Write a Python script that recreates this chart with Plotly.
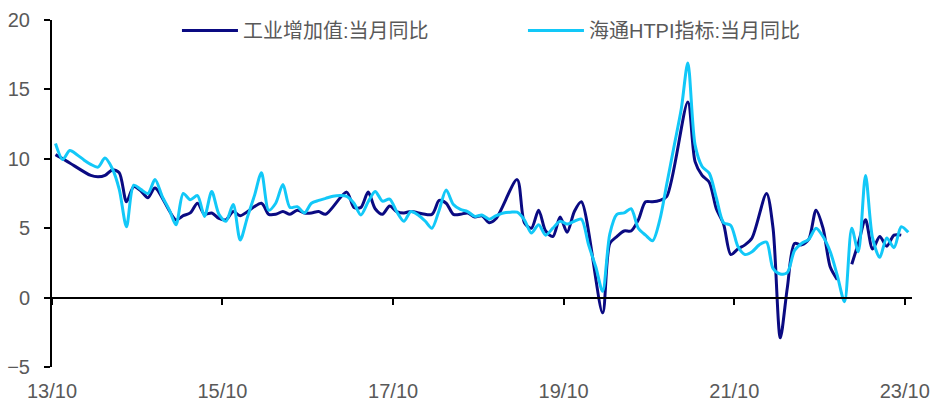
import pandas as pd
import plotly.graph_objects as go

# ---- data -------------------------------------------------------------
START_MONTH = "2013-10"
N_MONTHS = 121                      # 2013-10 ... 2023-10
MONTHS = pd.period_range(START_MONTH, periods=N_MONTHS, freq="M")

SERIES_NAMES = ["工业增加值:当月同比", "海通HTPI指标:当月同比"]

# 工业增加值:当月同比 (None = not published / not shown)
IVA_2013 = [10.3, 10.0, 9.7]
IVA_2014 = [None, None, 8.8, 8.7, 8.8, 9.2, 9.0, 6.9, 8.0, 7.7, 7.2, 7.9]
IVA_2015 = [None, None, 5.6, 5.9, 6.1, 6.8, 6.0, 6.1, 5.7, 5.6, 6.2, 5.9]
IVA_2016 = [None, None, 6.8, 6.0, 6.0, 6.2, 6.0, 6.3, 6.1, 6.1, 6.2, 6.0]
IVA_2017 = [None, None, 7.6, 6.5, 6.5, 7.6, 6.4, 6.0, 6.6, 6.2, 6.1, 6.2]
IVA_2018 = [None, None, 6.0, 7.0, 6.8, 6.0, 6.0, 6.1, 5.8, 5.9, 5.4, 5.7]
IVA_2019 = [None, None, 8.5, 5.4, 5.0, 6.3, 4.8, 4.4, 5.8, 4.7, 6.2, 6.9]
IVA_2020 = [None, None, -1.1, 3.9, 4.4, 4.8, 4.8, 5.6, 6.9, 6.9, 7.0, 7.3]
IVA_2021 = [None, None, 14.1, 9.8, 8.8, 8.3, 6.4, 5.3, 3.1, 3.5, 3.8, 4.3]
IVA_2022 = [None, 7.5, 5.0, -2.9, 0.7, 3.9, 3.8, 4.2, 6.3, 5.0, 2.2, 1.3]
IVA_2023 = [None, 2.4, 3.9, 5.6, 3.5, 4.4, 3.7, 4.5, 4.5, None]
IVA = (IVA_2013 + IVA_2014 + IVA_2015 + IVA_2016 + IVA_2017 + IVA_2018
       + IVA_2019 + IVA_2020 + IVA_2021 + IVA_2022 + IVA_2023)
IVA_BREAK = "2023-01"   # line is interrupted here in the original

# 海通HTPI指标:当月同比
HTPI_2013 = [11.1, 9.95, 10.6]
HTPI_2014 = [10.3, 9.9, 9.6, 9.4, 10.05, 9.3, 7.8, 5.1, 8.1, 7.8, 7.5, 8.5]
HTPI_2015 = [7.3, 6.3, 5.25, 7.5, 7.05, 7.35, 5.85, 7.65, 6.0, 5.5, 6.7, 4.15]
HTPI_2016 = [5.8, 7.4, 9.0, 6.3, 6.8, 8.15, 6.5, 6.55, 6.1, 6.8, 7.0, 7.15]
HTPI_2017 = [7.3, 7.35, 7.3, 6.8, 5.95, 6.9, 7.65, 6.95, 7.1, 6.2, 5.5, 6.2]
HTPI_2018 = [5.95, 5.5, 5.0, 6.3, 7.75, 6.7, 6.35, 6.2, 5.85, 5.95, 5.65, 5.9]
HTPI_2019 = [6.1, 6.15, 6.15, 5.6, 4.65, 5.25, 4.5, 5.0, 5.5, 5.3, 5.5, 5.65]
HTPI_2020 = [3.8, 2.2, 0.45, 4.6, 6.0, 6.1, 6.4, 5.0, 4.5, 4.1, 5.6, 8.2]
HTPI_2021 = [10.9, 13.6, 16.9, 11.0, 9.45, 8.95, 7.2, 5.4, 5.2, 3.7, 3.1, 3.3]
HTPI_2022 = [3.8, 4.0, 2.1, 1.7, 1.8, 3.4, 3.9, 4.2, 5.0, 4.4, 3.3, 1.6]
HTPI_2023 = [-0.3, 5.0, 3.3, 8.8, 4.3, 2.9, 4.3, 3.6, 5.1, 4.7]
HTPI = (HTPI_2013 + HTPI_2014 + HTPI_2015 + HTPI_2016 + HTPI_2017 + HTPI_2018
        + HTPI_2019 + HTPI_2020 + HTPI_2021 + HTPI_2022 + HTPI_2023)

X_RANGE = ["2013-10-01", "2023-11-01"]
TICK0 = "2013-10-01"
TICK_STEP = "M24"
Y_RANGE = [-5, 20]
Y_STEP = 5

# ---- styling ----------------------------------------------------------
NAVY = "#0a0a82"
CYAN = "#12c8f8"
GREY = "#595959"

# points sit in the middle of each month
X = [p.to_timestamp() + pd.Timedelta(days=15) for p in MONTHS]
brk = [str(m) for m in MONTHS].index(IVA_BREAK)

fig = go.Figure()
fig.add_trace(go.Scatter(
    x=X[:brk], y=IVA[:brk], name=SERIES_NAMES[0], mode="lines",
    line=dict(color=NAVY, width=3, shape="spline", smoothing=0.8),
    connectgaps=True, xaxis="x", yaxis="y"))
fig.add_trace(go.Scatter(
    x=X[brk + 1:], y=IVA[brk + 1:], name=SERIES_NAMES[0], mode="lines",
    line=dict(color=NAVY, width=3, shape="spline", smoothing=0.8),
    connectgaps=True, showlegend=False, xaxis="x", yaxis="y"))
fig.add_trace(go.Scatter(
    x=X, y=HTPI, name=SERIES_NAMES[1], mode="lines",
    line=dict(color=CYAN, width=3, shape="spline", smoothing=0.8),
    xaxis="x2", yaxis="y"))

zero_pos = (0 - Y_RANGE[0]) / (Y_RANGE[1] - Y_RANGE[0])

fig.update_layout(
    width=938, height=401,
    margin=dict(l=52, r=26, t=20, b=34, autoexpand=False),
    paper_bgcolor="white", plot_bgcolor="white",
    font=dict(family="Liberation Sans, Arial, sans-serif", size=20, color=GREY),
    showlegend=True,
    legend=dict(
        orientation="h", x=0.1453, y=1.026, xanchor="left", yanchor="top",
        bgcolor="rgba(0,0,0,0)",
        font=dict(family="Liberation Sans, Noto Sans CJK SC, sans-serif",
                  size=20, color=GREY),
        itemwidth=56,
        entrywidth=275, entrywidthmode="pixels",
        traceorder="normal",
    ),
    xaxis=dict(
        type="date", range=X_RANGE, anchor="free", position=zero_pos,
        showline=True, linecolor="black", linewidth=2,
        ticks="outside", ticklen=6, tickwidth=2, tickcolor="black",
        tick0=TICK0, dtick=TICK_STEP, showticklabels=False,
        showgrid=False, zeroline=False, automargin=False,
    ),
    xaxis2=dict(
        type="date", range=X_RANGE, matches="x", overlaying="x",
        anchor="y", side="bottom", showline=False,
        ticks="outside", ticklen=6, tickcolor="rgba(0,0,0,0)",
        tick0=TICK0, dtick=TICK_STEP, tickformat="%y/%m",
        showgrid=False, zeroline=False, automargin=False,
    ),
    yaxis=dict(
        range=Y_RANGE, dtick=Y_STEP, showline=True, linecolor="black",
        linewidth=2, ticks="outside", ticklen=6, tickwidth=2,
        tickcolor="black", showgrid=False, zeroline=False,
        ticklabelstandoff=10, automargin=False,
    ),
)

fig.write_html("out.html", config={"displayModeBar": False},
               post_script="document.body.style.margin='0';")
